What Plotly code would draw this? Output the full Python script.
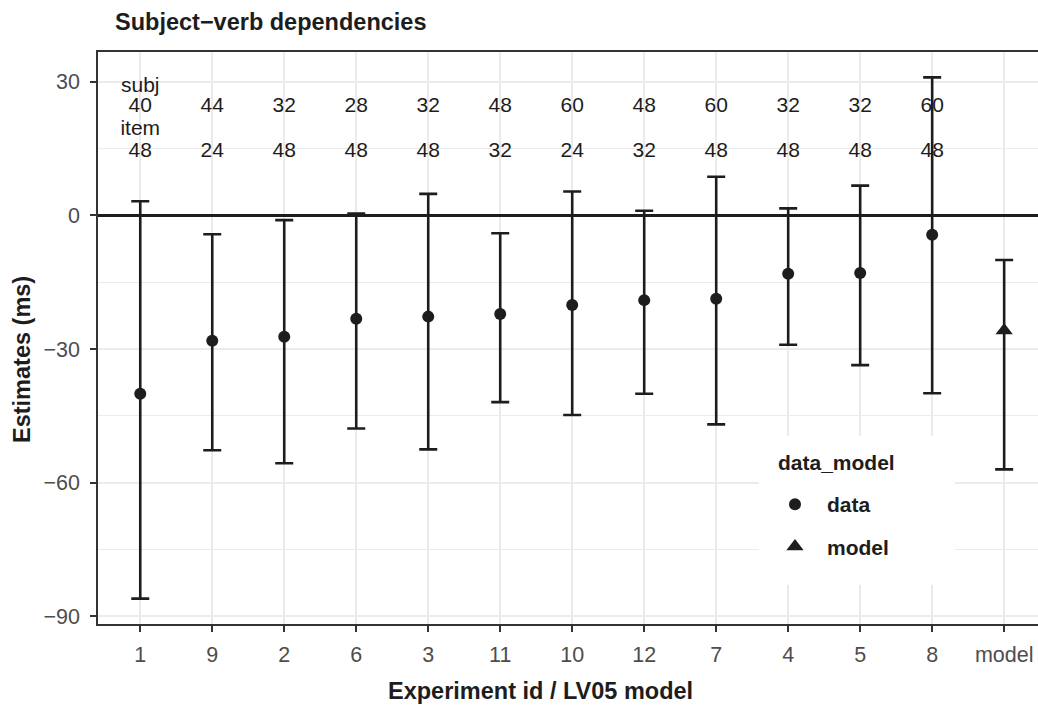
import plotly.graph_objects as go

# ---- data ----
experiments = ["1", "9", "2", "6", "3", "11", "10", "12", "7", "4", "5", "8"]
est = [-40.0, -28.1, -27.2, -23.2, -22.7, -22.1, -20.1, -19.0, -18.7, -13.1, -12.9, -4.3]
upper = [3.2, -4.2, -1.05, 0.45, 4.85, -4.0, 5.4, 1.05, 8.7, 1.6, 6.7, 31.0]
lower = [-86.0, -52.7, -55.6, -47.8, -52.5, -41.9, -44.8, -40.0, -46.9, -29.0, -33.6, -39.9]

model_cat = ["model"]
model_est = [-25.8]
model_upper = [-10.0]
model_lower = [-57.0]

subj_n = [40, 44, 32, 28, 32, 48, 60, 48, 60, 32, 32, 60]
item_n = [48, 24, 48, 48, 48, 32, 24, 32, 48, 48, 48, 48]

categories = experiments + model_cat
y_ticks = [-90, -60, -30, 0, 30]

INK = "#1d1d1d"
FONT = "Liberation Sans, Arial, Helvetica, sans-serif"

fig = go.Figure()

# count labels (drawn first so error bars go over them)
fig.add_trace(go.Scatter(
    x=experiments, y=[24.3] * len(experiments), mode="text",
    text=[str(v) for v in subj_n], textfont=dict(size=21, color=INK, family=FONT),
    showlegend=False, hoverinfo="skip"))
fig.add_trace(go.Scatter(
    x=experiments, y=[14.3] * len(experiments), mode="text",
    text=[str(v) for v in item_n], textfont=dict(size=21, color=INK, family=FONT),
    showlegend=False, hoverinfo="skip"))
fig.add_trace(go.Scatter(
    x=[experiments[0], experiments[0]], y=[28.8, 19.2], mode="text",
    text=["subj", "item"], textfont=dict(size=21, color=INK, family=FONT),
    showlegend=False, hoverinfo="skip"))

# data estimates
fig.add_trace(go.Scatter(
    x=experiments, y=est, mode="markers", name="<b>data</b>",
    legendgroup="data",
    marker=dict(symbol="circle", size=12, color=INK),
    error_y=dict(type="data", symmetric=False,
                 array=[u - e for u, e in zip(upper, est)],
                 arrayminus=[e - l for e, l in zip(est, lower)],
                 color=INK, thickness=2.6, width=9)))

# model estimate
fig.add_trace(go.Scatter(
    x=model_cat, y=model_est, mode="markers", name="<b>model</b>",
    legendgroup="model",
    marker=dict(symbol="triangle-up", size=15, color=INK),
    error_y=dict(type="data", symmetric=False,
                 array=[u - e for u, e in zip(model_upper, model_est)],
                 arrayminus=[e - l for e, l in zip(model_est, model_lower)],
                 color=INK, thickness=2.6, width=9)))

L, R, T, B = 98, 0, 52, 82
W, H = 1038, 706
pw, ph = W - L - R, H - T - B

def px_x(px):
    return (px - L) / pw

def px_y(py):
    return (H - B - py) / ph

fig.update_layout(
    width=W, height=H,
    margin=dict(l=L, r=R, t=T, b=B, pad=0),
    paper_bgcolor="white", plot_bgcolor="white",
    font=dict(family=FONT, color=INK),
    showlegend=True,
    legend=dict(
        font=dict(size=21, color=INK, family=FONT),
        bgcolor="rgba(255,255,255,0)", borderwidth=0,
        x=px_x(763), y=px_y(484), xanchor="left", yanchor="top",
        itemwidth=54,
        tracegroupgap=12, traceorder="grouped",
    ),
    shapes=[
        dict(type="rect", xref="paper", yref="paper", layer="above",
             x0=px_x(759), x1=px_x(955), y0=px_y(585), y1=px_y(436),
             fillcolor="white", line=dict(width=0)),
    ],
    xaxis=dict(
        type="category", categoryorder="array", categoryarray=categories,
        range=[-0.587, 12.47],
        showgrid=True, gridcolor="#EBEBEB", gridwidth=2,
        showline=True, linecolor="#333333", linewidth=1.5, mirror=True,
        ticks="outside", ticklen=6, tickwidth=1.5, tickcolor="#333333",
        tickfont=dict(size=21.5, color="#4D4D4D", family=FONT),
        ticklabelstandoff=4,
        zeroline=False,
    ),
    yaxis=dict(
        range=[-91.7, 36.7],
        tickvals=y_ticks,
        showgrid=True, gridcolor="#EBEBEB", gridwidth=2,
        minor=dict(dtick=15, tick0=0, showgrid=True, gridcolor="#EBEBEB", gridwidth=1, ticks=""),
        showline=True, linecolor="#333333", linewidth=1.5,
        ticks="outside", ticklen=6, tickwidth=1.5, tickcolor="#333333",
        tickfont=dict(size=21.5, color="#4D4D4D", family=FONT),
        ticklabelstandoff=6,
        zeroline=True, zerolinecolor=INK, zerolinewidth=2.6,
    ),
    annotations=[
        dict(text="<b>Subject\u2212verb dependencies</b>", x=px_x(113), y=px_y(22),
             xref="paper", yref="paper", xanchor="left", yanchor="middle",
             showarrow=False, font=dict(size=23.5, color=INK, family=FONT)),
        dict(text="<b>Estimates (ms)</b>", x=px_x(22), y=px_y(360),
             xref="paper", yref="paper", xanchor="center", yanchor="middle",
             textangle=-90, showarrow=False, font=dict(size=23.5, color=INK, family=FONT)),
        dict(text="<b>Experiment id / LV05 model</b>", x=px_x(540), y=px_y(691),
             xref="paper", yref="paper", xanchor="center", yanchor="middle",
             showarrow=False, font=dict(size=23.5, color=INK, family=FONT)),
        dict(text="<b>data_model</b>", x=px_x(776), y=px_y(462),
             xref="paper", yref="paper", xanchor="left", yanchor="middle",
             showarrow=False, font=dict(size=21, color=INK, family=FONT)),
    ],
)

fig.write_html("out.html")
